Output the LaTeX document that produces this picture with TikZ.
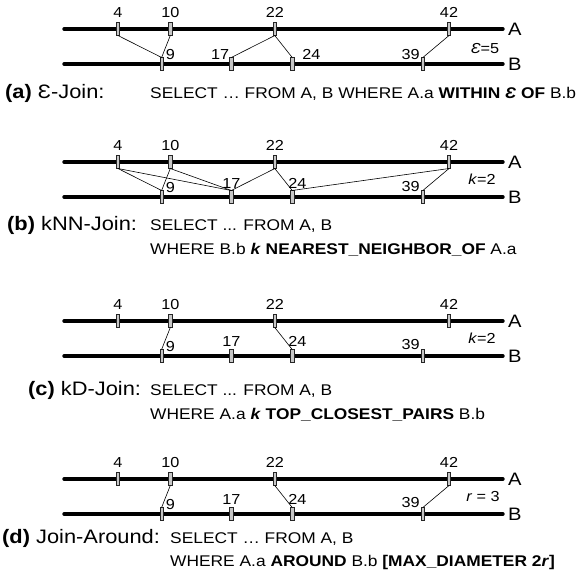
\documentclass[tikz,border=0pt]{standalone}
\usepackage{fontspec}
\setmainfont[FakeStretch=1.12]{Liberation Sans}
\newcommand{\joinpanel}[3]{%
  \draw[axis] (64,#2) -- (503,#2);
  \draw[axis] (64,#3) -- (503,#3);
  \node[side] (#1lA) at (508,#2) {A};
  \node[side] (#1lB) at (508,#3) {B};
  \foreach \v/\x in {4/118,10/170.3,22/274.8,42/449}{
    \node[tick] (#1a\v) at (\x,#2) {};
    \node[num,anchor=base] (#1n\v) at ([yshift=5pt]#1a\v.north) {\v};}
  \foreach \v/\x in {9/161.6,17/231.3,24/292.2,39/422.9}{
    \node[tick] (#1b\v) at (\x,#3) {};}
}
\begin{document}
\begin{tikzpicture}[x=1pt,y=-1pt,
  axis/.style={line width=3.4pt,line cap=round},
  tick/.style={rectangle,draw=black!85,fill=black!22,line width=0.55pt,minimum width=3.4pt,minimum height=12.5pt,inner sep=0pt},
  link/.style={line width=0.6pt},
  num/.style={font=\fontsize{14.5}{15}\selectfont,inner sep=0pt},
  side/.style={font=\fontsize{18}{18}\selectfont,inner sep=0pt,anchor=west},
  param/.style={font=\fontsize{14.5}{15}\selectfont,inner sep=0pt},
  pre/.style={font=\fontsize{19.5}{20}\selectfont,inner sep=0pt,anchor=base west},
  qry/.style={font=\fontsize{15.5}{16}\selectfont,inner sep=0pt,anchor=base west},
]
\useasboundingbox (0,0) rectangle (579,579);

% ---------- (a) ----------
\joinpanel{pa}{29}{64}
\node[num,anchor=base west] (pan9) at ([xshift=2pt,yshift=-2pt]pab9.north east) {9};
\node[num,anchor=base east] (pan17) at ([yshift=-2pt]pab17.north west) {17};
\node[num,anchor=base west] (pan24) at ([xshift=8pt,yshift=-2pt]pab24.north east) {24};
\node[num,anchor=base east] (pan39) at ([xshift=-1pt,yshift=-2pt]pab39.north west) {39};
\node[param] (pap) at (485,49) {\textit{Ɛ}=5};
\draw[link] (paa4.south) -- (pab9.north);
\draw[link] (paa10.south) -- (pab9.north);
\draw[link] (paa22.south) -- (pab17.north);
\draw[link] (paa22.south) -- (pab24.north);
\draw[link] (paa42.south) -- (pab39.north);
\node[pre] (pacap) at (5,98) {\textbf{(a)} Ɛ-Join:};
\node[qry] (paq) at (150,98) {SELECT … FROM A, B WHERE A.a \textbf{WITHIN \textit{Ɛ} OF} B.b};

% ---------- (b) ----------
\joinpanel{pb}{162}{197}
\node[num,anchor=base west] (pbn9) at ([xshift=2pt,yshift=-2pt]pbb9.north east) {9};
\node[num,anchor=base] (pbn17) at ([yshift=2pt]pbb17.north) {17};
\node[num,anchor=base west] (pbn24) at ([xshift=-2pt,yshift=2pt]pbb24.north west) {24};
\node[num,anchor=base east] (pbn39) at ([xshift=-1pt,yshift=-1pt]pbb39.north west) {39};
\node[param] (pbp) at (482,179) {\textit{k}=2};
\draw[link] (pba4.south) -- (pbb9.north);
\draw[link] (pba4.south) -- (pbb17.north);
\draw[link] (pba10.south) -- (pbb9.north);
\draw[link] (pba10.south) -- (pbb17.north);
\draw[link] (pba22.south) -- (pbb17.north);
\draw[link] (pba22.south) -- (pbb24.north);
\draw[link] (pba42.south) -- (pbb24.north);
\draw[link] (pba42.south) -- (pbb39.north);
\node[pre] (pbcap) at (7,230) {\textbf{(b)} kNN-Join:};
\node[qry] (pbq1) at (150,230) {SELECT ... FROM A, B};
\node[qry] (pbq2) at (150,254) {WHERE B.b \textbf{\textit{k} NEAREST\_NEIGHBOR\_OF} A.a};

% ---------- (c) ----------
\joinpanel{pc}{321}{356}
\node[num,anchor=base west] (pcn9) at ([xshift=2pt,yshift=-2pt]pcb9.north east) {9};
\node[num,anchor=base] (pcn17) at ([yshift=3pt]pcb17.north) {17};
\node[num,anchor=base west] (pcn24) at ([xshift=-2pt,yshift=3pt]pcb24.north west) {24};
\node[num,anchor=base east] (pcn39) at ([xshift=-1pt]pcb39.north west) {39};
\node[param] (pcp) at (482,338) {\textit{k}=2};
\draw[link] (pca10.south) -- (pcb9.north);
\draw[link] (pca22.south) -- (pcb24.north);
\node[pre] (pccap) at (28,395) {\textbf{(c)} kD-Join:};
\node[qry] (pcq1) at (150,395) {SELECT ... FROM A, B};
\node[qry] (pcq2) at (150,419) {WHERE A.a \textbf{\textit{k} TOP\_CLOSEST\_PAIRS} B.b};

% ---------- (d) ----------
\joinpanel{pd}{479}{514}
\node[num,anchor=base west] (pdn9) at ([xshift=2pt,yshift=-2pt]pdb9.north east) {9};
\node[num,anchor=base] (pdn17) at ([yshift=3pt]pdb17.north) {17};
\node[num,anchor=base west] (pdn24) at ([xshift=-2pt,yshift=3pt]pdb24.north west) {24};
\node[num,anchor=base east] (pdn39) at ([xshift=-1pt]pdb39.north west) {39};
\node[param] (pdp) at (483,497) {\textit{r} = 3};
\draw[link] (pda10.south) -- (pdb9.north);
\draw[link] (pda22.south) -- (pdb24.north);
\draw[link] (pda42.south) -- (pdb39.north);
\node[pre] (pdcap) at (2,543) {\textbf{(d)} Join-Around:};
\node[qry] (pdq1) at (170,543) {SELECT … FROM A, B};
\node[qry] (pdq2) at (170,566) {WHERE A.a \textbf{AROUND} B.b \textbf{[MAX\_DIAMETER 2\textit{r}]}};
\end{tikzpicture}
\end{document}
